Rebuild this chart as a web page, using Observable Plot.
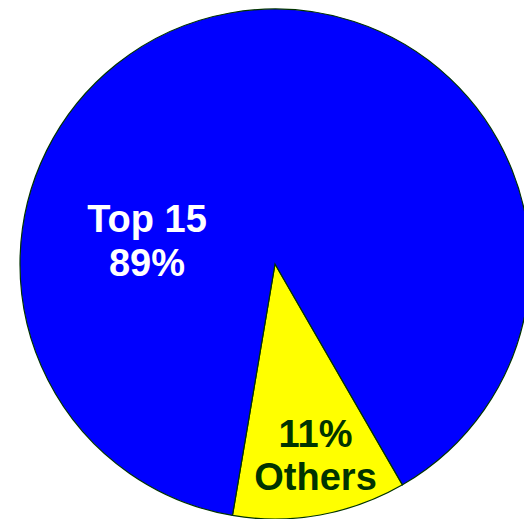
<!DOCTYPE html>
<html>
<head>
<meta charset="utf-8">
<script src="https://cdn.jsdelivr.net/npm/d3@7"></script>
<script src="https://cdn.jsdelivr.net/npm/@observablehq/plot@0.6"></script>
<style>
  html, body { margin: 0; padding: 0; background: #ffffff; overflow: hidden; }
  #chart svg { display: block; }
</style>
</head>
<body>
<div id="chart"></div>
<script>
// ---- data ----
const categories = ["Others", "Top 15"];
const shares = [11, 89];
const labelLines = [["11%", "Others"], ["Top 15", "89%"]];
const sliceColors = ["#ffff00", "#0000ff"];
const textColors = ["#003300", "#ffffff"];

const data = categories.map((c, i) => ({
  category: c,
  share: shares[i],
  label: labelLines[i].join("\n")
}));

const colorOf = d3.scaleOrdinal(categories, sliceColors);
const textColorOf = d3.scaleOrdinal(categories, textColors);

const start = 150 * Math.PI / 180;
const pie = d3.pie().sort(null).value(d => d.share).startAngle(start).endAngle(start + 2 * Math.PI);
const arcs = pie(data);

function pieMark(index, scales) {
  const cx = scales.x(0), cy = scales.y(0);
  const r = scales.x(1) - scales.x(0);
  const arc = d3.arc().innerRadius(0).outerRadius(r);
  const g = d3.create("svg:g").attr("transform", `translate(${cx},${cy})`);
  g.selectAll("path")
    .data(arcs)
    .join("path")
    .attr("d", arc)
    .attr("fill", d => colorOf(d.data.category))
    .attr("stroke", "#003300")
    .attr("stroke-width", 1.2)
    .attr("stroke-linejoin", "miter");
  return g.node();
}

// label placement (styling, in unit-circle coordinates)
const labelPlace = {
  "Others": { x: 0.157, y: -0.746, lh: 1.13 },
  "Top 15": { x: -0.504, y: 0.095, lh: 1.16 }
};

const textMarks = data.map(d => Plot.text([d], {
  x: () => labelPlace[d.category].x,
  y: () => labelPlace[d.category].y,
  text: "label",
  fill: textColorOf(d.category),
  fontSize: 38,
  fontWeight: "bold",
  fontFamily: "Liberation Sans, Arial, sans-serif",
  lineHeight: labelPlace[d.category].lh,
  textAnchor: "middle"
}));

const chart = Plot.plot({
  width: 524,
  height: 519,
  margin: 0,
  x: { domain: [-1, 1], range: [20, 530], axis: null },
  y: { domain: [-1, 1], range: [519, 9], axis: null },
  style: { background: "#ffffff", overflow: "hidden" },
  marks: [
    pieMark,
    ...textMarks
  ]
});

document.getElementById("chart").appendChild(chart);
</script>
</body>
</html>
